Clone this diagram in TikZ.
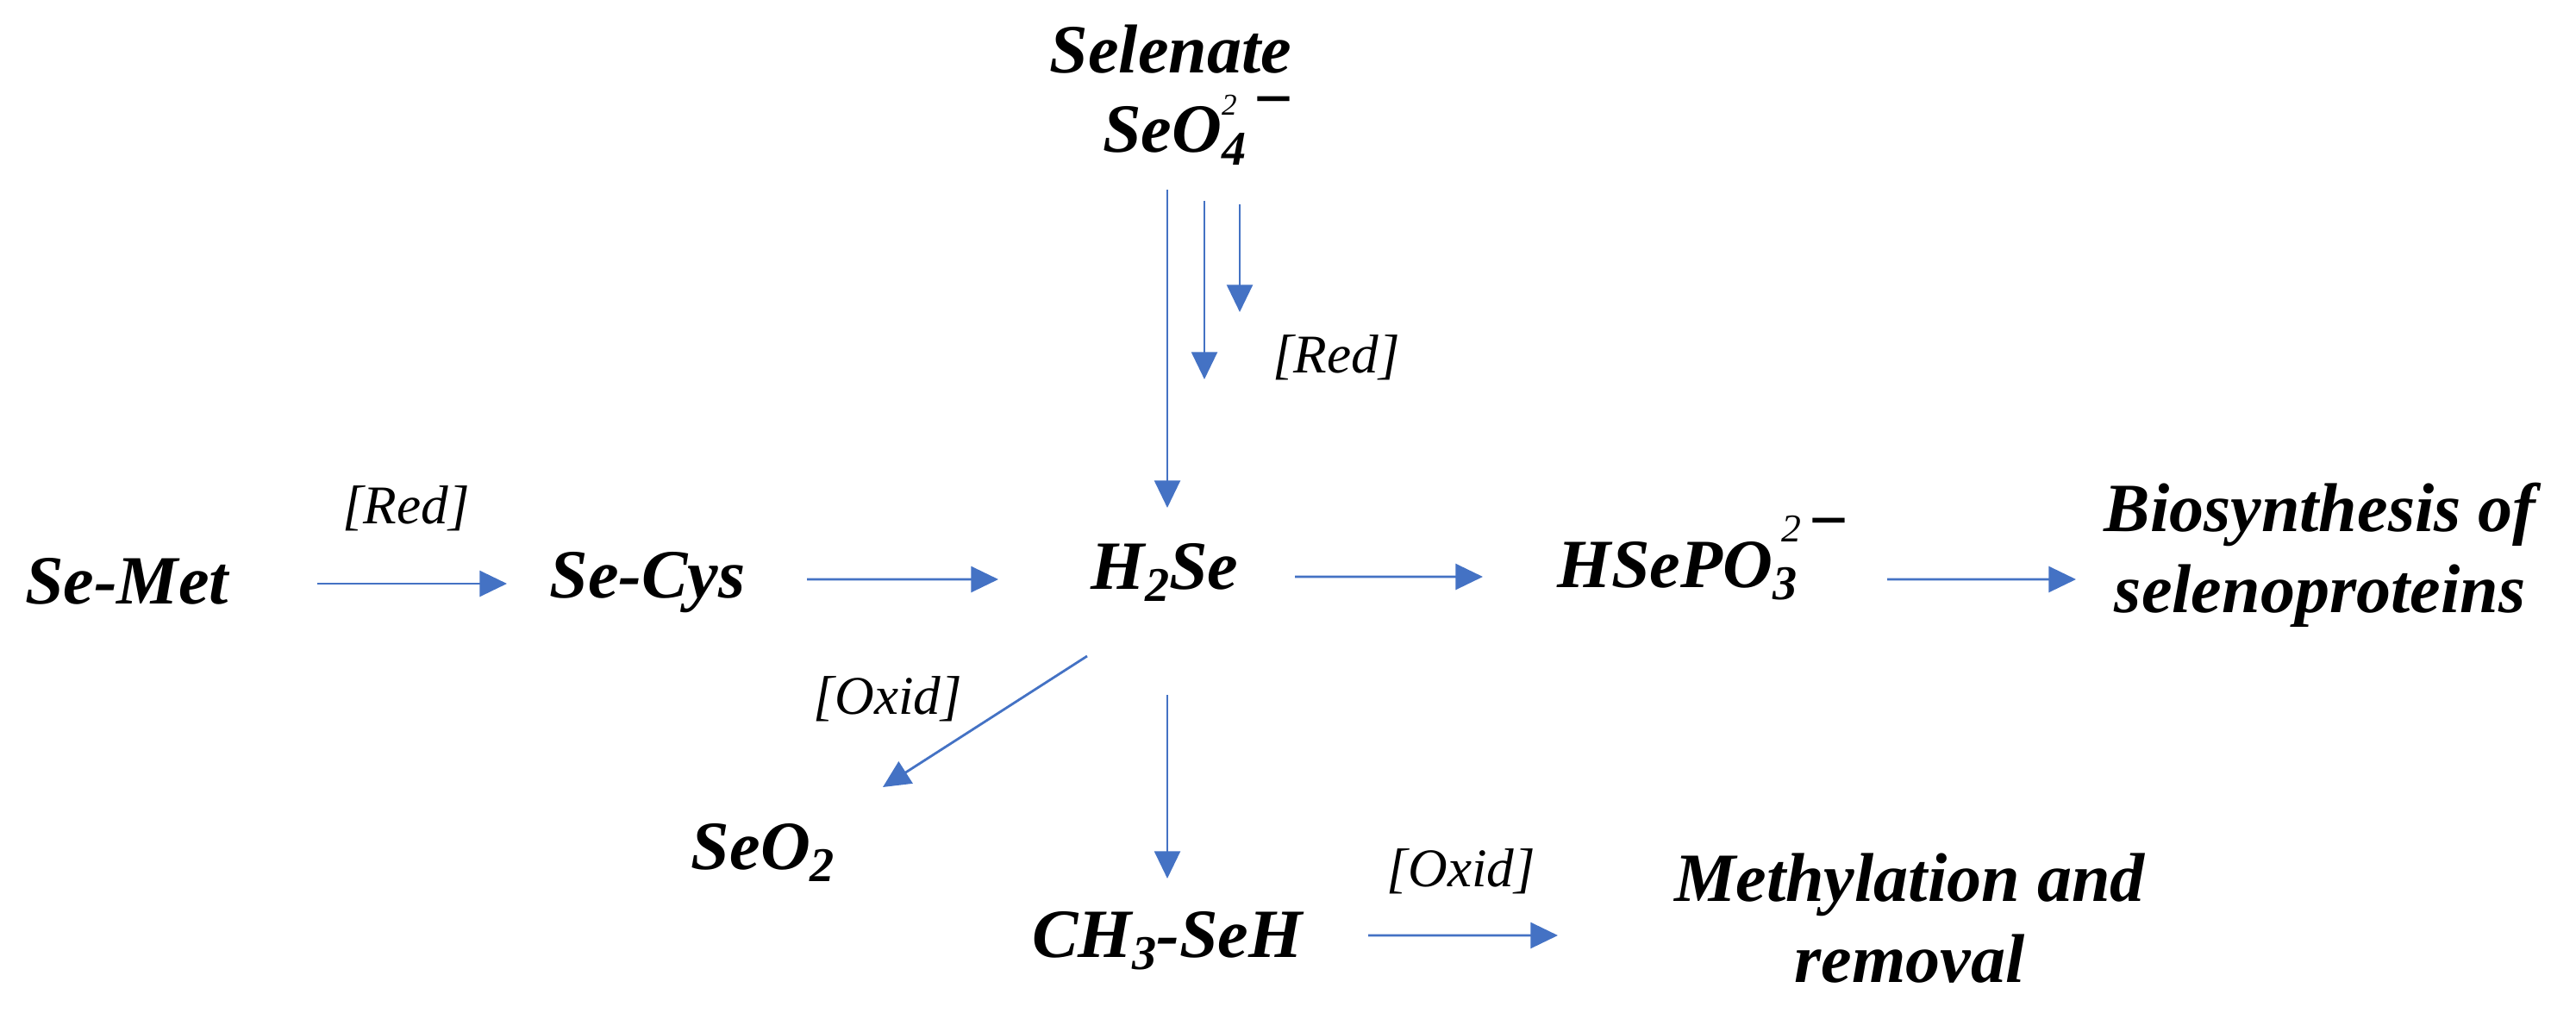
\documentclass[tikz,border=0pt]{standalone}
\usepackage{amsmath}
\usepackage{fontspec}
\setmainfont{Liberation Serif}
\usepackage{tikz}
\usetikzlibrary{arrows.meta}
\definecolor{arrowblue}{RGB}{68,114,196}
\newcommand{\lowsub}[1]{\raisebox{-4pt}{\fontsize{16}{16}\selectfont #1}}
\newcommand{\highsup}[3][14pt]{\raisebox{#1}{\fontsize{#2}{#2}\selectfont\mdseries #3}}

\begin{document}
\begin{tikzpicture}[
  chem/.style={font=\fontsize{22.8}{26.65}\selectfont\bfseries\itshape, inner sep=0pt, anchor=base},
  cond/.style={font=\fontsize{18}{21}\selectfont\itshape, inner sep=0pt},
  arr/.style={color=arrowblue, line width=0.8pt, -{Triangle[length=9pt,width=8.5pt]}}
]

  \useasboundingbox (0,0) rectangle (29.88,11.74);

  %% compounds
  \node[chem] (selenate) at (13.58,10.89) {Selenate};
  \node[chem] (seo4) at (13.90,9.97) {SeO\rlap{\lowsub{4}}\highsup[12.5pt]{10}{2}\hspace{5pt}\raisebox{10pt}{−}};
  \node[chem] (semet) at (1.47,4.74) {Se-Met};
  \node[chem] (secys) at (7.51,4.81) {Se-Cys};
  \node[chem] (h2se) at (13.51,4.91) {H\lowsub{2}Se};
  \node[chem] (hsepo3) at (19.76,4.93) {HSePO\rlap{\lowsub{3}}\hspace{3pt}\highsup[15pt]{13}{2}\hspace{2pt}\raisebox{14.5pt}{−}};
  \node[chem, align=center, anchor=center] (bio) at (26.91,5.30) {Biosynthesis of\\selenoproteins};
  \node[chem] (seo2) at (8.85,1.66) {SeO\lowsub{2}};
  \node[chem] (ch3seh) at (13.54,0.64) {CH\lowsub{3}-SeH};
  \node[chem, align=center, anchor=center] (meth) at (22.15,1.09) {Methylation and\\removal};

  %% conditions
  \node[cond] (redA) at (15.50,7.59) {[Red]};
  \node[cond] (redB) at (4.71,5.84) {[Red]};
  \node[cond] (oxidA) at (10.30,3.63) {[Oxid]};
  \node[cond] (oxidB) at (16.95,1.63) {[Oxid]};

  %% main row
  \draw[arr] ([shift={(2.21,0.23)}]semet.base) -- ([shift={(-1.63,0.16)}]secys.base); %% Se-Met -> Se-Cys
  \draw[arr] ([shift={(1.85,0.21)}]secys.base) -- ([shift={(-1.93,0.11)}]h2se.base); %% Se-Cys -> H2Se
  \draw[arr] ([shift={(1.51,0.14)}]h2se.base) -- ([shift={(-2.56,0.12)}]hsepo3.base); %% H2Se -> HSePO3
  \draw[arr] ([shift={(2.13,0.09)}]hsepo3.base) -- ([shift={(-2.83,-0.28)}]bio.center); %% HSePO3 -> biosynthesis

  %% selenate reduction
  \draw[arr] ([shift={(-0.36,-0.43)}]seo4.base) -- ([shift={(0.03,0.94)}]h2se.base); % SeO4 -> H2Se
  \draw[arr] ([shift={(0.07,-0.56)}]seo4.base) -- ++(0,-2.07);
  \draw[arr] ([shift={(0.48,-0.60)}]seo4.base) -- ++(0,-1.25);

  %% below H2Se
  \draw[arr] ([shift={(-0.90,-0.78)}]h2se.base) -- ([shift={(1.39,0.95)}]seo2.base); % H2Se -> SeO2
  \draw[arr] ([shift={(0.03,-1.23)}]h2se.base) -- ([shift={(0,0.91)}]ch3seh.base); % H2Se -> CH3-SeH
  \draw[arr] ([shift={(2.33,0.25)}]ch3seh.base) -- ([shift={(-4.08,-0.20)}]meth.center); % CH3-SeH -> removal

\end{tikzpicture}
\end{document}
